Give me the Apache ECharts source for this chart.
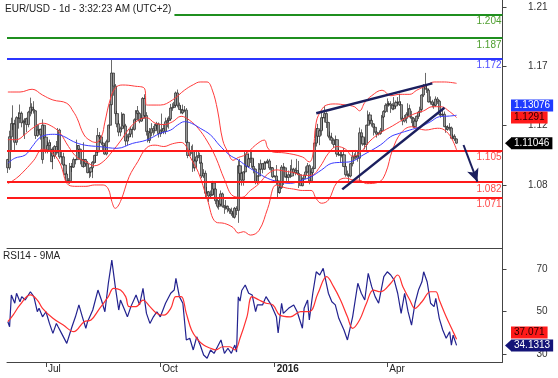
<!DOCTYPE html>
<html><head><meta charset="utf-8">
<script src="https://cdn.jsdelivr.net/npm/echarts@6/dist/echarts.min.js"></script>
<style>html,body{margin:0;padding:0;background:#fff}#c{width:558px;height:378px}</style>
</head><body><div id="c"></div>
<script>
// ---- DATA ----
// daily candles [open, close, low, high], 2015-06-01 .. 2016-05-27 (weekdays)
const ohlc = [
[1.0985,1.0925,1.0887,1.0990],[1.0925,1.1151,1.0910,1.1195],[1.1151,1.1247,1.1050,1.1290],[1.1247,1.1243,1.1200,1.1380],[1.1243,1.1111,1.1050,1.1275],
[1.1111,1.1290,1.1090,1.1300],[1.1290,1.1287,1.1210,1.1330],[1.1287,1.1322,1.1250,1.1386],[1.1322,1.1253,1.1220,1.1335],[1.1253,1.1262,1.1160,1.1275],
[1.1262,1.1282,1.1135,1.1285],[1.1282,1.1240,1.1185,1.1290],[1.1240,1.1330,1.1220,1.1340],[1.1330,1.1366,1.1300,1.1436],[1.1366,1.1350,1.1315,1.1395],
[1.1350,1.1340,1.1320,1.1410],[1.1340,1.1160,1.1135,1.1345],[1.1160,1.1200,1.1150,1.1240],[1.1200,1.1205,1.1175,1.1240],[1.1205,1.1165,1.1130,1.1210],
[1.0985,1.1235,1.0955,1.1278],[1.1235,1.1148,1.1135,1.1240],
[1.1148,1.1055,1.1030,1.1150],[1.1055,1.1087,1.1030,1.1120],[1.1087,1.1108,1.1050,1.1130],[1.0970,1.1060,1.0970,1.1110],[1.1060,1.1010,1.0915,1.1075],
[1.1010,1.1080,1.0990,1.1090],[1.1080,1.1040,1.1020,1.1120],[1.1040,1.1160,1.1030,1.1215],[1.1200,1.1005,1.0990,1.1210],[1.1005,1.1005,1.0950,1.1050],
[1.1005,1.0945,1.0940,1.1035],[1.0945,1.0880,1.0870,1.0955],[1.0880,1.0830,1.0830,1.0900],[1.0830,1.0830,1.0810,1.0850],[1.0830,1.0935,1.0808,1.0960],
[1.0935,1.0930,1.0895,1.0960],[1.0930,1.0985,1.0925,1.1000],[1.0985,1.0985,1.0950,1.0990],[1.0985,1.1087,1.0980,1.1130],[1.1087,1.1060,1.1030,1.1090],
[1.1060,1.0985,1.0950,1.1065],[1.0985,1.0935,1.0930,1.0990],[1.0935,1.0985,1.0925,1.1110],
[1.0985,1.0955,1.0940,1.0990],[1.0955,1.0890,1.0885,1.0975],[1.0890,1.0895,1.0850,1.0905],[1.0895,1.0925,1.0860,1.0930],[1.0925,1.0965,1.0850,1.0975],
[1.0965,1.1015,1.0955,1.1020],[1.1015,1.1040,1.0960,1.1050],[1.1040,1.1160,1.1030,1.1215],[1.1160,1.1150,1.1110,1.1185],[1.1150,1.1105,1.1090,1.1160],
[1.1105,1.1085,1.1055,1.1115],[1.1085,1.1025,1.1020,1.1095],[1.1025,1.1115,1.1015,1.1130],[1.1115,1.1235,1.1110,1.1240],[1.1235,1.1385,1.1210,1.1390],
[1.1385,1.1615,1.1380,1.1714],[1.1615,1.1520,1.1450,1.1615],[1.1520,1.1320,1.1300,1.1535],[1.1320,1.1245,1.1220,1.1340],[1.1245,1.1185,1.1155,1.1270],
[1.1185,1.1210,1.1155,1.1225],
[1.1210,1.1315,1.1200,1.1330],[1.1315,1.1230,1.1215,1.1320],[1.1230,1.1120,1.1085,1.1245],[1.1120,1.1150,1.1090,1.1170],[1.1150,1.1170,1.1135,1.1175],
[1.1170,1.1205,1.1150,1.1225],[1.1205,1.1205,1.1145,1.1225],[1.1205,1.1275,1.1195,1.1285],[1.1275,1.1340,1.1260,1.1345],[1.1340,1.1320,1.1315,1.1375],
[1.1320,1.1265,1.1250,1.1330],[1.1265,1.1285,1.1260,1.1310],[1.1285,1.1430,1.1270,1.1440],[1.1430,1.1305,1.1290,1.1460],[1.1305,1.1190,1.1160,1.1330],
[1.1190,1.1125,1.1110,1.1200],[1.1125,1.1180,1.1105,1.1215],[1.1180,1.1210,1.1155,1.1250],[1.1210,1.1195,1.1160,1.1230],[1.1195,1.1235,1.1175,1.1245],
[1.1235,1.1245,1.1205,1.1260],[1.1245,1.1175,1.1145,1.1255],
[1.1175,1.1195,1.1150,1.1205],[1.1195,1.1210,1.1170,1.1320],[1.1210,1.1190,1.1170,1.1245],[1.1190,1.1260,1.1170,1.1290],[1.1260,1.1270,1.1220,1.1290],
[1.1270,1.1280,1.1210,1.1300],[1.1280,1.1360,1.1270,1.1390],[1.1360,1.1365,1.1340,1.1395],[1.1365,1.1380,1.1360,1.1405],[1.1380,1.1470,1.1370,1.1480],
[1.1470,1.1380,1.1365,1.1495],[1.1380,1.1350,1.1345,1.1400],[1.1350,1.1325,1.1320,1.1380],[1.1325,1.1345,1.1315,1.1385],[1.1345,1.1345,1.1330,1.1375],
[1.1345,1.1110,1.1100,1.1360],[1.1110,1.1015,1.0995,1.1125],[1.1015,1.1050,1.1010,1.1065],[1.1050,1.1045,1.1025,1.1085],[1.1045,1.0925,1.0895,1.1095],
[1.0925,1.0975,1.0900,1.0990],[1.0975,1.1005,1.0965,1.1055],
[1.1005,1.1015,1.0995,1.1040],[1.1015,1.0960,1.0955,1.1035],[1.0960,1.0865,1.0850,1.0970],[1.0865,1.0885,1.0850,1.0915],[1.0885,1.0740,1.0705,1.0905],
[1.0740,1.0750,1.0705,1.0785],[1.0750,1.0720,1.0675,1.0755],[1.0720,1.0730,1.0705,1.0760],[1.0730,1.0815,1.0720,1.0830],[1.0815,1.0770,1.0725,1.0825],
[1.0770,1.0685,1.0660,1.0775],[1.0685,1.0645,1.0630,1.0700],[1.0645,1.0660,1.0620,1.0690],[1.0660,1.0735,1.0650,1.0760],[1.0735,1.0645,1.0635,1.0745],
[1.0645,1.0635,1.0590,1.0655],[1.0635,1.0645,1.0620,1.0690],[1.0645,1.0625,1.0600,1.0650],[1.0625,1.0610,1.0590,1.0630],[1.0610,1.0590,1.0575,1.0635],
[1.0590,1.0565,1.0565,1.0605],
[1.0565,1.0630,1.0555,1.0640],[1.0630,1.0615,1.0580,1.0645],[1.0615,1.0940,1.0524,1.0980],[1.0940,1.0885,1.0800,1.0990],[1.0885,1.0835,1.0795,1.0895],
[1.0835,1.0895,1.0795,1.0900],[1.0895,1.1025,1.0880,1.1040],[1.1025,1.0935,1.0925,1.1045],[1.0935,1.0990,1.0925,1.1030],[1.0990,1.0995,1.0960,1.1050],
[1.0995,1.0935,1.0925,1.1042],[1.0935,1.0915,1.0885,1.0990],[1.0915,1.0825,1.0805,1.0920],[1.0825,1.0865,1.0805,1.0870],[1.0865,1.0915,1.0860,1.0960],
[1.0915,1.0955,1.0910,1.0985],[1.0955,1.0915,1.0885,1.0960],[1.0915,1.0960,1.0910,1.0975],[1.0960,1.0965,1.0955,1.0970],[1.0965,1.0975,1.0955,1.0990],
[1.0975,1.0925,1.0910,1.0990],[1.0925,1.0925,1.0905,1.0935],[1.0925,1.0860,1.0850,1.0930],
[1.0860,1.0865,1.0855,1.0870],[1.0865,1.0830,1.0800,1.0945],[1.0830,1.0745,1.0711,1.0840],[1.0745,1.0780,1.0735,1.0800],[1.0780,1.0930,1.0770,1.0945],
[1.0930,1.0925,1.0800,1.0960],[1.0925,1.0860,1.0855,1.0935],[1.0860,1.0855,1.0830,1.0880],[1.0855,1.0875,1.0825,1.0905],[1.0875,1.0865,1.0850,1.0945],
[1.0865,1.0915,1.0860,1.0985],[1.0915,1.0890,1.0885,1.0925],[1.0890,1.0905,1.0870,1.0925],[1.0905,1.0885,1.0880,1.0990],[1.0885,1.0875,1.0778,1.0975],
[1.0875,1.0795,1.0795,1.0875],[1.0795,1.0845,1.0790,1.0855],[1.0845,1.0870,1.0830,1.0875],[1.0870,1.0895,1.0855,1.0935],[1.0895,1.0940,1.0885,1.0960],
[1.0940,1.0830,1.0805,1.0950],
[1.0830,1.0890,1.0815,1.0905],[1.0890,1.0920,1.0860,1.0935],[1.0920,1.1105,1.0915,1.1110],[1.1105,1.1210,1.1080,1.1215],[1.1210,1.1155,1.1110,1.1245],
[1.1155,1.1195,1.1090,1.1200],[1.1195,1.1290,1.1160,1.1340],[1.1290,1.1290,1.1200,1.1295],[1.1290,1.1320,1.1255,1.1376],[1.1320,1.1255,1.1215,1.1330],
[1.1255,1.1155,1.1140,1.1260],[1.1155,1.1145,1.1125,1.1190],[1.1145,1.1125,1.1100,1.1180],[1.1125,1.1095,1.1070,1.1140],[1.1095,1.1130,1.1090,1.1160],
[1.1130,1.1025,1.1005,1.1130],[1.1025,1.1020,1.1010,1.1065],[1.1020,1.1015,1.0960,1.1045],[1.1015,1.1020,1.1000,1.1050],[1.1020,1.0935,1.0930,1.1070],
[1.0935,1.0875,1.0860,1.0960],
[1.0875,1.0870,1.0860,1.0905],[1.0870,1.0865,1.0825,1.0885],[1.0865,1.0955,1.0855,1.0960],[1.0955,1.1005,1.0935,1.1045],[1.1005,1.1010,1.0985,1.1030],
[1.1010,1.1010,1.0985,1.1055],[1.1010,1.0995,1.0970,1.1040],[1.0995,1.1180,1.0822,1.1218],[1.1180,1.1150,1.1095,1.1205],[1.1150,1.1100,1.1085,1.1160],
[1.1100,1.1095,1.1060,1.1140],[1.1095,1.1235,1.1055,1.1240],[1.1235,1.1310,1.1230,1.1342],[1.1310,1.1270,1.1245,1.1330],[1.1270,1.1245,1.1225,1.1285],
[1.1245,1.1220,1.1160,1.1250],[1.1220,1.1185,1.1180,1.1230],[1.1185,1.1170,1.1145,1.1190],[1.1170,1.1175,1.1160,1.1185],[1.1175,1.1195,1.1165,1.1215],
[1.1195,1.1295,1.1185,1.1310],[1.1295,1.1335,1.1290,1.1345],[1.1335,1.1380,1.1325,1.1395],
[1.1380,1.1390,1.1330,1.1430],[1.1390,1.1390,1.1370,1.1410],[1.1390,1.1380,1.1325,1.1410],[1.1380,1.1355,1.1345,1.1395],[1.1355,1.1375,1.1345,1.1440],
[1.1375,1.1400,1.1360,1.1415],[1.1400,1.1405,1.1385,1.1440],[1.1405,1.1385,1.1375,1.1465],[1.1385,1.1285,1.1275,1.1410],[1.1285,1.1265,1.1235,1.1300],
[1.1265,1.1285,1.1255,1.1310],[1.1285,1.1315,1.1250,1.1330],[1.1315,1.1355,1.1305,1.1395],[1.1355,1.1295,1.1295,1.1385],[1.1295,1.1285,1.1250,1.1340],
[1.1285,1.1225,1.1215,1.1295],[1.1225,1.1265,1.1215,1.1275],[1.1265,1.1300,1.1260,1.1305],[1.1300,1.1330,1.1280,1.1340],[1.1330,1.1350,1.1300,1.1370],
[1.1350,1.1455,1.1345,1.1460],
[1.1455,1.1525,1.1440,1.1535],[1.1525,1.1500,1.1495,1.1616],[1.1500,1.1490,1.1470,1.1525],[1.1490,1.1405,1.1400,1.1500],[1.1405,1.1405,1.1385,1.1445],
[1.1405,1.1385,1.1365,1.1420],[1.1385,1.1380,1.1355,1.1400],[1.1380,1.1425,1.1370,1.1445],[1.1425,1.1410,1.1390,1.1440],[1.1410,1.1315,1.1305,1.1420],
[1.1315,1.1310,1.1290,1.1330],[1.1310,1.1315,1.1300,1.1350],[1.1315,1.1225,1.1220,1.1335],[1.1225,1.1205,1.1180,1.1235],[1.1205,1.1220,1.1195,1.1235],
[1.1220,1.1215,1.1195,1.1250],[1.1215,1.1140,1.1135,1.1225],[1.1140,1.1155,1.1130,1.1170],[1.1155,1.1135,1.1120,1.1170],[1.1135,1.11046,1.1100,1.1140]
];
// Bollinger bands (upper / middle / lower) and moving average, read at [day index, price]
const bbUpper = [[0,1.1477],[7,1.1477],[14,1.1497],[20,1.1455],[26,1.1419],[34,1.1395],[38,1.133],[40,1.1285],[44,1.1164],[48,1.112],[51,1.111],[54,1.115],[56,1.1258],[59,1.1419],[62,1.1506],[66,1.1528],[73,1.152],[79,1.150],[80,1.1382],[88,1.1382],[95,1.1419],[102,1.1491],[107,1.153],[111,1.155],[115,1.155],[118,1.1491],[121,1.1346],[124,1.1127],[127,1.104],[130,1.098],[133,1.100],[137,1.102],[143,1.1091],[148,1.1127],[150,1.107],[153,1.104],[160,1.1033],[170,1.1004],[174,1.0968],[176,1.1018],[178,1.1258],[181,1.1346],[184,1.1382],[189,1.139],[195,1.1382],[200,1.137],[203,1.134],[206,1.140],[210,1.145],[216,1.149],[221,1.145],[226,1.146],[232,1.146],[236,1.149],[241,1.152],[246,1.155],[252,1.155],[259,1.154]];
const bbMid = [[0,1.113],[5,1.113],[10,1.117],[15,1.122],[20,1.125],[25,1.123],[30,1.118],[35,1.108],[40,1.100],[45,1.097],[50,1.094],[55,1.097],[60,1.104],[65,1.112],[70,1.121],[75,1.127],[80,1.129],[85,1.125],[90,1.124],[95,1.126],[100,1.130],[105,1.127],[110,1.121],[115,1.112],[120,1.100],[125,1.084],[130,1.072],[135,1.071],[140,1.076],[145,1.081],[150,1.088],[155,1.091],[160,1.090],[165,1.089],[170,1.087],[175,1.087],[180,1.093],[185,1.103],[190,1.108],[195,1.106],[199,1.101],[203,1.103],[209,1.112],[215,1.118],[222,1.123],[230,1.129],[235,1.132],[240,1.134],[245,1.137],[250,1.137],[255,1.1334],[259,1.1291]];
const bbLower = [[0,1.081],[5,1.085],[10,1.091],[15,1.098],[20,1.106],[25,1.104],[30,1.096],[35,1.080],[40,1.079],[45,1.079],[50,1.080],[55,1.080],[58,1.077],[60,1.068],[62,1.063],[65,1.068],[70,1.086],[75,1.097],[80,1.107],[85,1.109],[90,1.108],[95,1.110],[100,1.111],[103,1.108],[105,1.101],[110,1.089],[115,1.070],[120,1.053],[125,1.052],[130,1.049],[133,1.045],[136,1.046],[140,1.0435],[145,1.047],[150,1.063],[155,1.080],[160,1.078],[165,1.077],[170,1.076],[175,1.076],[178,1.070],[181,1.0667],[185,1.069],[190,1.082],[195,1.085],[200,1.0835],[203,1.0835],[207,1.081],[214,1.082],[218,1.0886],[222,1.1055],[227,1.118],[233,1.1224],[241,1.120],[248,1.1213],[252,1.120],[256,1.1142],[259,1.1055]];
const maLine = [[0,1.0958],[4,1.0995],[10,1.1018],[14,1.1079],[18,1.114],[22,1.1164],[27,1.1169],[32,1.1155],[38,1.1115],[44,1.1091],[53,1.1079],[63,1.1067],[72,1.1103],[80,1.1127],[88,1.1176],[94,1.120],[98,1.1237],[102,1.1261],[106,1.1249],[111,1.1213],[117,1.1164],[122,1.1091],[128,1.1018],[133,1.0982],[137,1.0945],[143,1.0897],[150,1.0848],[156,1.0824],[163,1.0812],[170,1.0836],[175,1.086],[181,1.0909],[187,1.0958],[193,1.0965],[198,1.097],[205,1.1018],[215,1.1091],[221,1.1152],[226,1.1176],[232,1.120],[238,1.1224],[244,1.1261],[249,1.1297],[255,1.1302],[259,1.13076]];
// RSI(14) and its 9-period MA, [day index, value]
const rsi = [[0,45.3],[1,42.9],[2,57.9],[4,54.0],[5,58.7],[7,54.7],[8,57.1],[10,55.5],[13,59.4],[15,57.1],[17,50.0],[18,51.6],[20,47.6],[22,50.0],[24,44.5],[26,39.8],[28,44.5],[29,42.9],[31,39.8],[34,35.1],[35,34.3],[37,42.9],[39,47.6],[41,53.2],[43,47.6],[45,42.2],[46,45.3],[49,50.8],[52,60.2],[54,55.5],[56,50.0],[58,63.4],[60,74.3],[62,61.8],[64,50.8],[65,55.5],[67,51.6],[69,47.6],[71,52.4],[74,57.9],[76,53.2],[78,61.0],[80,49.2],[82,44.5],[84,47.6],[86,50.0],[88,47.6],[91,54.0],[94,58.7],[96,60.2],[97,65.7],[99,57.1],[101,54.0],[103,36.7],[105,37.5],[107,32.0],[109,38.2],[111,34.3],[113,29.6],[115,28.1],[117,32.0],[119,30.4],[121,33.5],[123,36.7],[125,30.4],[127,32.8],[129,30.4],[131,34.3],[132,31.0],[133,57.0],[134,55.0],[135,60.0],[137,62.6],[139,58.7],[141,57.9],[143,50.0],[144,53.2],[147,53.2],[149,57.1],[152,53.2],[155,47.6],[156,40.0],[158,54.0],[159,49.2],[162,51.6],[165,53.2],[167,50.0],[170,42.2],[171,51.6],[173,55.5],[174,46.1],[176,58.7],[178,68.8],[180,67.3],[182,70.4],[183,71.2],[185,58.7],[187,54.7],[189,53.2],[191,46.9],[194,41.4],[196,36.7],[197,35.9],[199,47.6],[202,63.4],[204,58.7],[206,55.5],[208,68.1],[210,61.8],[212,57.1],[214,54.0],[217,66.5],[219,68.8],[221,67.3],[223,64.9],[225,58.7],[227,49.2],[229,58.7],[231,50.0],[233,43.7],[235,54.0],[237,60.2],[239,64.1],[240,68.8],[242,64.1],[244,54.0],[246,52.4],[247,56.3],[249,46.9],[251,41.4],[253,37.5],[255,40.6],[256,34.3],[257,39.0],[259,34.1313]];
const rsiMa = [[0,45.3],[3,48.4],[7,53.2],[13,57.9],[17,55.5],[20,51.6],[26,46.9],[32,43.7],[38,40.6],[44,45.3],[48,46.1],[53,51.6],[58,57.1],[61,61.0],[65,60.2],[68,57.1],[70,52.4],[74,52.4],[78,55.5],[82,52.4],[86,49.2],[90,48.4],[94,51.6],[97,57.1],[100,57.1],[103,49.2],[106,41.4],[109,37.5],[113,34.3],[117,32.8],[120,32.0],[124,33.5],[128,33.5],[131,32.0],[134,37.5],[138,47.6],[141,57.1],[145,55.5],[149,54.0],[153,53.2],[157,48.4],[163,47.6],[169,50.0],[174,50.0],[179,58.7],[184,66.5],[188,61.8],[192,55.5],[196,47.6],[199,42.2],[203,46.1],[207,54.0],[211,60.2],[215,59.4],[221,63.4],[225,67.3],[228,61.8],[232,55.5],[235,51.6],[239,54.7],[244,59.4],[247,59.4],[249,55.5],[253,47.6],[257,40.6],[259,37.071]];
// horizontal levels and drawn trend lines [day index, price]
const levels = [1.204, 1.187, 1.172, 1.105, 1.082, 1.071];
const trendUpper = [[178, 1.1322], [245, 1.154]];
const trendLower = [[193, 1.0768], [252, 1.1363]];
const arrowPath = [[263, 1.1091], [271, 1.0824]];
const priceTicks = [1.08, 1.1232, 1.1664, 1.2096];
const rsiTicks = [30, 50, 70];
// categories: weekdays from 2015-06-01
const categories = [];
(function(){ const d = new Date(Date.UTC(2015,5,1)); while (categories.length < 286) { const w = d.getUTCDay(); if (w !== 0 && w !== 6) categories.push(d.toISOString().slice(0,10)); d.setUTCDate(d.getUTCDate()+1); } })();

// ---- CHART ----
const MONTHS = ['Jan','Feb','Mar','Apr','May','Jun','Jul','Aug','Sep','Oct','Nov','Dec'];
const FONT = '"Liberation Sans", Arial, sans-serif';
function quarterStart(idx) {
  if (idx <= 0 || idx >= ohlc.length) return false;
  const m = +categories[idx].slice(5,7), pm = +categories[idx-1].slice(5,7);
  return m !== pm && (m - 1) % 3 === 0;
}
const GREEN = '#1f8f1f', BLUE = '#2b35ff', RED = '#ff1a1a', NAVY = '#1b1f5e';
const levelColor = v => v > 1.18 ? GREEN : (v > 1.15 ? BLUE : RED);
const levelLabelColor = v => v > 1.18 ? '#4e9e2e' : (v > 1.15 ? '#4a4aff' : '#ff4a4a');

const chart = echarts.init(document.getElementById('c'), null, {renderer: 'canvas'});
const option = {
  animation: false,
  textStyle: {fontFamily: FONT},
  title: [
    {text: 'EUR/USD - 1d - 3:32:23 AM (UTC+2)', left: 3, top: 2, padding: [2, 3, 2, 2], backgroundColor: '#fff',
     textStyle: {fontSize: 10, fontWeight: 'normal', color: '#222', fontFamily: FONT}, z: 20},
    {text: 'RSI14 - 9MA', left: 3, top: 251, padding: 0,
     textStyle: {fontSize: 10, fontWeight: 'normal', color: '#222', fontFamily: FONT}}
  ],
  grid: [
    {left: 7, top: 0, width: 495.5, height: 248, outerBoundsMode: 'none', containLabel: false},
    {left: 7, top: 248, width: 495.5, height: 114, outerBoundsMode: 'none', containLabel: false}
  ],
  xAxis: [
    {type: 'category', gridIndex: 0, data: categories, boundaryGap: true,
     axisLine: {show: true, lineStyle: {color: '#444', width: 1}}, axisTick: {show: false}, axisLabel: {show: false}, splitLine: {show: false}},
    {type: 'category', gridIndex: 1, data: categories, boundaryGap: true,
     axisLine: {show: true, lineStyle: {color: '#444', width: 1}},
     axisTick: {show: true, alignWithLabel: true, length: 5, interval: (i) => quarterStart(i), lineStyle: {color: '#444'}},
     axisLabel: {show: true, interval: (i) => quarterStart(i), align: 'left', margin: 2, padding: [0, 0, 0, 2],
       fontSize: 10, color: '#222', fontFamily: FONT,
       formatter: v => { const m = +v.slice(5,7); return m === 1 ? '{y|' + v.slice(0,4) + '}' : MONTHS[m-1]; },
       rich: {y: {fontWeight: 'bold', fontSize: 10, color: '#222', fontFamily: FONT}}},
     splitLine: {show: false}}
  ],
  yAxis: [
    {type: 'value', gridIndex: 0, position: 'right', min: 1.0341, max: 1.2147,
     axisLine: {show: true, lineStyle: {color: '#444'}},
     axisTick: {show: true, length: 4, customValues: priceTicks, lineStyle: {color: '#444'}},
     axisLabel: {show: true, customValues: priceTicks, formatter: v => v.toFixed(2), align: 'right', margin: 45, fontSize: 10, color: '#333', fontFamily: FONT},
     splitLine: {show: false}},
    {type: 'value', gridIndex: 1, position: 'right', min: 26.33, max: 80,
     axisLine: {show: true, lineStyle: {color: '#444'}},
     axisTick: {show: true, length: 4, customValues: rsiTicks, lineStyle: {color: '#444'}},
     axisLabel: {show: true, customValues: rsiTicks, align: 'right', margin: 45, fontSize: 10, color: '#333', fontFamily: FONT},
     splitLine: {show: false}}
  ],
  series: [
    {type: 'candlestick', name: 'EUR/USD', xAxisIndex: 0, yAxisIndex: 0, data: ohlc, barWidth: 2.6, z: 2,
     itemStyle: {color: '#9a9a9a', color0: '#9a9a9a', borderColor: '#2a2a2a', borderColor0: '#2a2a2a', borderWidth: 0.7}},
    {type: 'line', name: 'BB upper', xAxisIndex: 0, yAxisIndex: 0, data: bbUpper, showSymbol: false, smooth: 0.4, z: 3,
     lineStyle: {color: '#ff3a3a', width: 1}},
    {type: 'line', name: 'BB mid', xAxisIndex: 0, yAxisIndex: 0, data: bbMid, showSymbol: false, smooth: 0.4, z: 3,
     lineStyle: {color: '#ff3a3a', width: 1}},
    {type: 'line', name: 'BB lower', xAxisIndex: 0, yAxisIndex: 0, data: bbLower, showSymbol: false, smooth: 0.4, z: 3,
     lineStyle: {color: '#ff3a3a', width: 1}},
    {type: 'line', name: 'MA', xAxisIndex: 0, yAxisIndex: 0, data: maLine, showSymbol: false, smooth: 0.4, z: 4,
     lineStyle: {color: '#3a3aff', width: 1},
     markLine: {silent: true, symbol: 'none', animation: false, precision: 5, lineStyle: {type: 'solid'},
       data: levels.map(v => ({yAxis: v, lineStyle: {color: levelColor(v), width: 2, type: 'solid'},
         label: {show: true, position: 'insideEndBottom', distance: [1, 2], formatter: v.toFixed(3), color: levelLabelColor(v), fontSize: 10, fontFamily: FONT}}))
         .concat([
           [{coord: trendUpper[0], lineStyle: {color: NAVY, width: 2.5, type: 'solid'}, label: {show: false}}, {coord: trendUpper[1]}],
           [{coord: trendLower[0], lineStyle: {color: NAVY, width: 2.5, type: 'solid'}, label: {show: false}}, {coord: trendLower[1]}],
           [{coord: arrowPath[0], symbol: 'none', lineStyle: {color: NAVY, width: 2, type: 'solid'}, label: {show: false}},
            {coord: arrowPath[1], symbol: 'arrow', symbolSize: [9, 13]}]
         ])}},
    {type: 'line', name: 'RSI14', xAxisIndex: 1, yAxisIndex: 1, data: rsi, showSymbol: false, z: 3,
     lineStyle: {color: '#22228f', width: 1.2}},
    {type: 'line', name: 'RSI MA', xAxisIndex: 1, yAxisIndex: 1, data: rsiMa, showSymbol: false, smooth: 0.4, z: 4,
     lineStyle: {color: '#ff3030', width: 1.2}}
  ]
};
chart.setOption(option);

// value tags on the right scale, placed through the axes
const last = a => a[a.length - 1][1];
const py = (ax, v) => chart.convertToPixel({yAxisIndex: ax}, v);
function tag(text, y, bg, fg, arrow) {
  const els = [];
  if (arrow) els.push({type: 'polygon', shape: {points: [[505, y], [511, y - 5.5], [511, y + 5.5]]}, style: {fill: bg}, z: 100});
  els.push({type: 'text', x: 511, y: y, z: 100,
    style: {text: text, fill: fg, font: '10px ' + FONT, backgroundColor: bg, padding: [1, 3, 1, 3], lineHeight: 10,
            verticalAlign: 'middle', align: 'left'}});
  return els;
}
const lastClose = ohlc[ohlc.length - 1][1];
const yClose = py(0, lastClose);
const yMid = py(0, last(bbMid));
let yMa = py(0, last(maLine));
if (Math.abs(yMa - yMid) < 12) yMa = yMid - 12;
const yRsi = py(1, last(rsi));
let yRsiMa = py(1, last(rsiMa));
if (Math.abs(yRsiMa - yRsi) < 13) yRsiMa = yRsi - 13;
chart.setOption({graphic: [].concat(
  tag(last(maLine).toFixed(5), yMa, '#1f3bff', '#fff', false),
  tag(String(last(bbMid)), yMid, '#ff1a1a', '#2a0000', false),
  tag(lastClose.toFixed(5), yClose, '#000', '#fff', true),
  tag(last(rsiMa).toFixed(3), yRsiMa, '#ff1a1a', '#2a0000', false),
  tag(String(last(rsi)), yRsi, '#141478', '#fff', true)
)});
</script></body></html>
